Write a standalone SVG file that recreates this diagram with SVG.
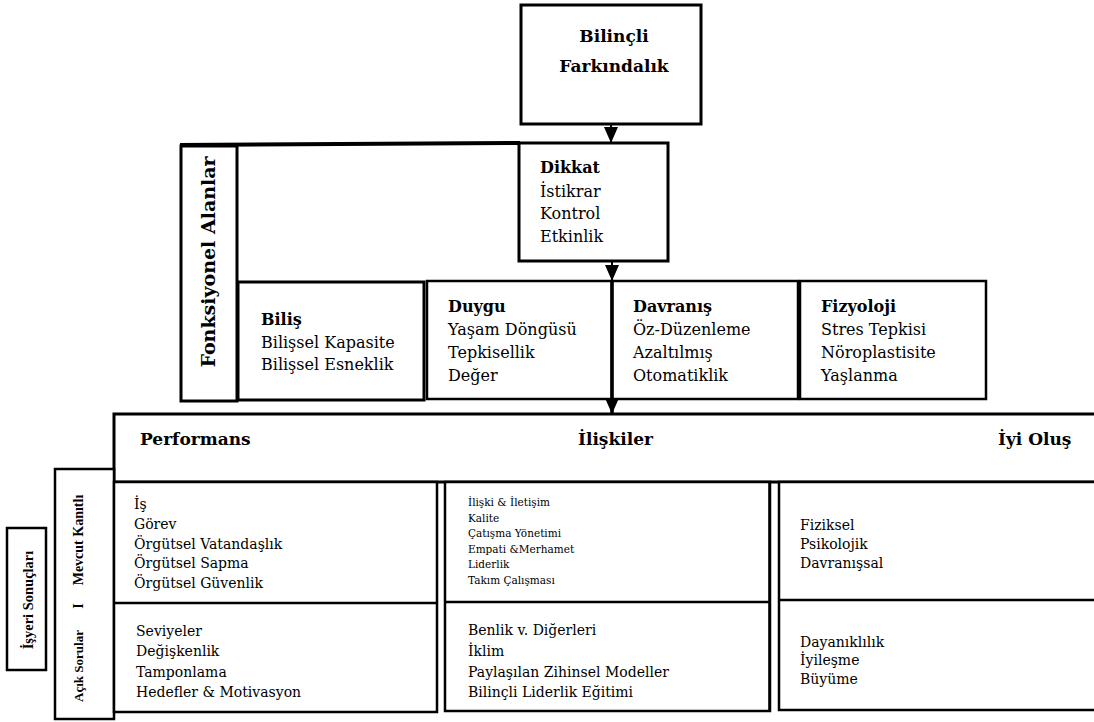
<svg xmlns="http://www.w3.org/2000/svg" width="1094" height="722" viewBox="0 0 1094 722">
<style>
.box{fill:#fff;stroke:#000;stroke-width:2.5}
.thin{fill:none;stroke:#000;stroke-width:2}
.t{font-family:"DejaVu Serif","Liberation Serif",serif;font-size:16px;fill:#000}
.b{font-weight:bold}
.h{font-family:"DejaVu Serif","Liberation Serif",serif;font-size:17px;font-weight:bold;fill:#000}
.s{font-family:"DejaVu Serif","Liberation Serif",serif;font-size:14px;fill:#000}
.xs{font-family:"DejaVu Serif","Liberation Serif",serif;font-size:10.5px;fill:#000}
.r{font-family:"Liberation Serif",serif;font-size:12px;font-weight:bold;fill:#000}
.conn{stroke:#000;stroke-width:2;fill:none}
</style>
<defs>
<marker id="arr" markerUnits="userSpaceOnUse" markerWidth="16" markerHeight="14" viewBox="0 0 16 14" refX="16" refY="7" orient="auto">
<path d="M0,0 L16,7 L0,14 z" fill="#000"/>
</marker>
</defs>
<rect width="1094" height="722" fill="#fff"/>

<g id="bilincli">
<rect class="box" x="521" y="5" width="180" height="119" style="stroke-width:3"/>
<text class="h" x="614" y="42" text-anchor="middle">Bilinçli</text>
<text class="h" x="614" y="72" text-anchor="middle">Farkındalık</text>
</g>

<g id="fonksiyonel">
<line x1="180" y1="145" x2="520" y2="143" stroke="#000" stroke-width="4"/>
<rect class="box" x="181" y="146" width="56" height="255" style="stroke-width:3"/>
<text class="h" x="215" y="262" text-anchor="middle" transform="rotate(-90 215 262)" style="font-size:19px">Fonksiyonel Alanlar</text>
</g>

<g id="dikkat">
<rect class="box" x="519" y="143" width="149" height="118" style="stroke-width:3"/>
<text class="t b" x="540" y="173">Dikkat</text>
<text class="t" x="540" y="197">İstikrar</text>
<text class="t" x="540" y="219">Kontrol</text>
<text class="t" x="540" y="242">Etkinlik</text>
</g>

<g id="bilis">
<rect class="box" x="238" y="282" width="186" height="118" style="stroke-width:3"/>
<text class="t b" x="261" y="325">Biliş</text>
<text class="t" x="261" y="348">Bilişsel Kapasite</text>
<text class="t" x="261" y="370">Bilişsel Esneklik</text>
</g>

<g id="duygu">
<rect class="box" x="427" y="281" width="185" height="118"/>
<text class="t b" x="448" y="312">Duygu</text>
<text class="t" x="448" y="335">Yaşam Döngüsü</text>
<text class="t" x="448" y="358">Tepkisellik</text>
<text class="t" x="448" y="381">Değer</text>
</g>

<g id="davranis">
<rect class="box" x="612" y="281" width="186" height="118"/>
<text class="t b" x="633" y="312">Davranış</text>
<text class="t" x="633" y="335">Öz-Düzenleme</text>
<text class="t" x="633" y="358">Azaltılmış</text>
<text class="t" x="633" y="381">Otomatiklik</text>
</g>

<g id="fizyoloji">
<rect class="box" x="800" y="281" width="186" height="118"/>
<text class="t b" x="821" y="312">Fizyoloji</text>
<text class="t" x="821" y="335">Stres Tepkisi</text>
<text class="t" x="821" y="358">Nöroplastisite</text>
<text class="t" x="821" y="381">Yaşlanma</text>
</g>

<g id="sonuclar">
<path d="M1094,414 L114,414 L114,482 L1094,482" fill="#fff" stroke="#000" stroke-width="3"/>
<text class="h" x="140" y="445">Performans</text>
<text class="h" x="578" y="445">İlişkiler</text>
<text class="h" x="998" y="445">İyi Oluş</text>
</g>

<g id="isyeri">
<rect class="box" x="7" y="528" width="39" height="142"/>
<text class="r" x="33" y="600" text-anchor="middle" transform="rotate(-90 33 600)" style="font-size:14.5px">İşyeri Sonuçları</text>
</g>

<g id="kanit">
<rect class="box" x="55" y="469" width="59" height="250"/>
<text class="r" x="83" y="540" text-anchor="middle" transform="rotate(-90 83 540)" style="font-size:14px">Mevcut Kanıtlı</text>
<text class="r" x="83" y="606" text-anchor="middle" transform="rotate(-90 83 606)" style="font-size:14px">I</text>
<text class="r" x="83" y="666" text-anchor="middle" transform="rotate(-90 83 666)" style="font-size:13px">Açık Sorular</text>
</g>

<g id="performans-col">
<rect class="box" x="114" y="482" width="323" height="230"/>
<line class="thin" x1="114" y1="603" x2="437" y2="603" style="stroke-width:2.5"/>
<text class="s" x="134" y="509">İş</text>
<text class="s" x="134" y="529">Görev</text>
<text class="s" x="134" y="549">Örgütsel Vatandaşlık</text>
<text class="s" x="134" y="568">Örgütsel Sapma</text>
<text class="s" x="134" y="588">Örgütsel Güvenlik</text>
<text class="s" x="136" y="636">Seviyeler</text>
<text class="s" x="136" y="656">Değişkenlik</text>
<text class="s" x="136" y="677">Tamponlama</text>
<text class="s" x="136" y="697">Hedefler &amp; Motivasyon</text>
</g>

<g id="iliskiler-col">
<rect class="box" x="445" y="482" width="325" height="229"/>
<line class="thin" x1="445" y1="602" x2="770" y2="602" style="stroke-width:2.5"/>
<text class="xs" x="468" y="506">İlişki &amp; İletişim</text>
<text class="xs" x="468" y="522">Kalite</text>
<text class="xs" x="468" y="537">Çatışma Yönetimi</text>
<text class="xs" x="468" y="553">Empati &amp;Merhamet</text>
<text class="xs" x="468" y="568">Liderlik</text>
<text class="xs" x="468" y="584">Takım Çalışması</text>
<text class="s" x="468" y="635">Benlik v. Diğerleri</text>
<text class="s" x="468" y="656">İklim</text>
<text class="s" x="468" y="677">Paylaşılan Zihinsel Modeller</text>
<text class="s" x="468" y="697">Bilinçli Liderlik Eğitimi</text>
</g>

<g id="iyiolus-col">
<path d="M1094,482 L779,482 L779,710 L1094,710 M779,600 L1094,600" fill="#fff" stroke="#000" stroke-width="2.5"/>
<line x1="769" y1="482" x2="769" y2="711" stroke="#000" stroke-width="1.5"/>
<text class="s" x="800" y="530">Fiziksel</text>
<text class="s" x="800" y="549">Psikolojik</text>
<text class="s" x="800" y="568">Davranışsal</text>
<text class="s" x="800" y="647">Dayanıklılık</text>
<text class="s" x="800" y="665">İyileşme</text>
<text class="s" x="800" y="684">Büyüme</text>
</g>

<g id="connectors">
<line class="conn" x1="611" y1="124" x2="611" y2="143" marker-end="url(#arr)"/>
<line class="conn" x1="612" y1="261" x2="612" y2="281" marker-end="url(#arr)"/>
<line class="conn" x1="612" y1="281" x2="612" y2="414" style="stroke-width:3.5" marker-end="url(#arr)"/>
</g>
</svg>
